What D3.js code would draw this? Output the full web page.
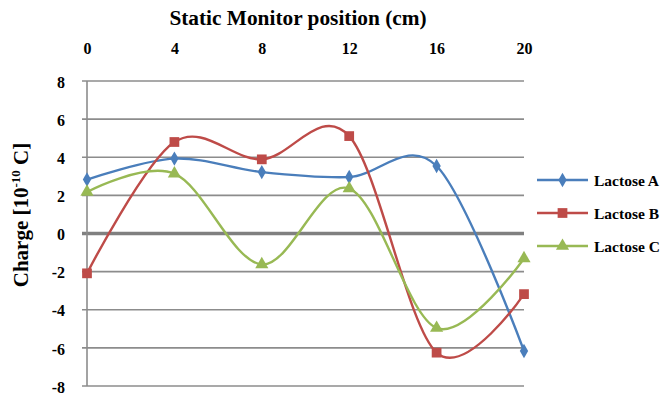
<!DOCTYPE html>
<html>
<head>
<meta charset="utf-8">
<script src="https://cdn.jsdelivr.net/npm/d3@7"></script>
<style>
  html, body { margin: 0; padding: 0; background: #fff; }
  svg { display: block; }
  text { font-family: "Liberation Serif", "Times New Roman", "DejaVu Serif", serif; font-weight: bold; fill: #000; }
</style>
</head>
<body>
<svg id="chart" width="660" height="401"></svg>
<script>
// Monitor positions (cm)
const positions = [0, 4, 8, 12, 16, 20];
// Charge readings, units of 1e-10 C
const lactoseA = [2.83, 3.93, 3.22, 2.96, 3.54, -6.16];
const lactoseB = [-2.09, 4.8, 3.89, 5.11, -6.25, -3.18];
const lactoseC = [2.18, 3.14, -1.62, 2.36, -4.96, -1.31];
const seriesNames = ["Lactose A", "Lactose B", "Lactose C"];
const yTicks = [-8, -6, -4, -2, 0, 2, 4, 6, 8];
const xTicks = [0, 4, 8, 12, 16, 20];

const series = [
  { name: seriesNames[0], values: lactoseA, color: "#4A7EBB", symbol: d3.symbolDiamond, size: 60 },
  { name: seriesNames[1], values: lactoseB, color: "#BE4B48", symbol: d3.symbolSquare, size: 95 },
  { name: seriesNames[2], values: lactoseC, color: "#98B954", symbol: d3.symbolTriangle, size: 75 }
];

const fontStack = '"Liberation Serif", "Times New Roman", "DejaVu Serif", serif';
const svg = d3.select("#chart");
const x = d3.scaleLinear().domain([0, 20]).range([87, 524]);
const y = d3.scaleLinear().domain([-8, 8]).range([386, 81]);

// horizontal gridlines (with short tick stubs left of the axis)
svg.append("g").selectAll("line").data(yTicks).join("line")
  .attr("x1", x(0) - 5).attr("x2", x(20))
  .attr("y1", d => y(d)).attr("y2", d => y(d))
  .attr("stroke", d => d === 0 ? "#808080" : "#8c8c8c")
  .attr("stroke-width", d => d === 0 ? 3.5 : 1.6);

// vertical axis line
svg.append("line")
  .attr("x1", x(0)).attr("x2", x(0))
  .attr("y1", y(8)).attr("y2", y(-8))
  .attr("stroke", "#8c8c8c").attr("stroke-width", 1.6);

// top axis labels
const xAxis = svg.append("g")
  .attr("transform", "translate(0,54)")
  .call(d3.axisTop(x).tickValues(xTicks).tickSize(0).tickPadding(0).tickFormat(d => String(d)));
xAxis.select(".domain").remove();
xAxis.attr("font-family", fontStack).attr("font-size", 17);
xAxis.selectAll("text")
  .attr("dy", 0)
  .attr("transform", "scale(0.94,1)")
  .style("font-family", fontStack).style("font-size", "17px").style("font-weight", "bold");

// left axis labels
const yAxis = svg.append("g")
  .attr("transform", "translate(65,0)")
  .call(d3.axisLeft(y).tickValues(yTicks).tickSize(0).tickPadding(0).tickFormat(d => String(d)));
yAxis.select(".domain").remove();
yAxis.attr("font-family", fontStack).attr("font-size", 17);
yAxis.selectAll("text")
  .attr("dy", "0.36em")
  .attr("transform", "scale(0.94,1)")
  .style("font-family", fontStack).style("font-size", "17px").style("font-weight", "bold");

// axis titles
svg.append("text")
  .attr("transform", "translate(298,25) scale(0.97,1)")
  .attr("text-anchor", "middle")
  .style("font-size", "22px")
  .text("Static Monitor position (cm)");

const yTitle = svg.append("text")
  .attr("transform", "translate(27.5,215) rotate(-90)")
  .attr("text-anchor", "middle")
  .style("font-size", "21px");
yTitle.append("tspan").text("Charge [10");
yTitle.append("tspan").attr("dy", -8).style("font-size", "13px").text("-10");
yTitle.append("tspan").attr("dy", 8).text(" C]");

// smoothed series lines
const line = d3.line()
  .x((d, i) => x(positions[i]))
  .y(d => y(d))
  .curve(d3.curveCatmullRom.alpha(0));

series.forEach(s => {
  svg.append("path")
    .datum(s.values)
    .attr("fill", "none")
    .attr("stroke", s.color)
    .attr("stroke-width", 2.4)
    .attr("d", line);
});

series.forEach(s => {
  svg.append("g").selectAll("path").data(s.values).join("path")
    .attr("transform", (d, i) => `translate(${x(positions[i])},${y(d)})`)
    .attr("d", d3.symbol().type(s.symbol).size(s.size))
    .attr("fill", s.color);
});

// legend
const legend = svg.append("g");
series.forEach((s, i) => {
  const ly = 180 + i * 33;
  legend.append("line")
    .attr("x1", 537).attr("x2", 588).attr("y1", ly).attr("y2", ly)
    .attr("stroke", s.color).attr("stroke-width", 2.4);
  legend.append("path")
    .attr("transform", `translate(562.5,${ly})`)
    .attr("d", d3.symbol().type(s.symbol).size(s.size))
    .attr("fill", s.color);
  legend.append("text")
    .attr("x", 594).attr("y", ly + 5.5)
    .style("font-size", "15.5px")
    .text(s.name);
});
</script>
</body>
</html>
